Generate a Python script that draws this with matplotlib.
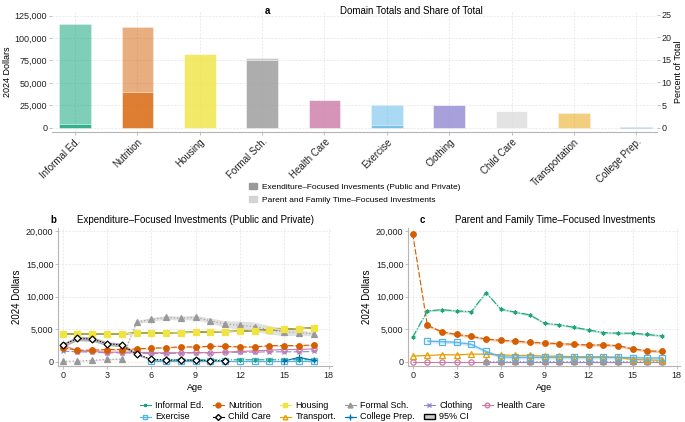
import numpy as np
import matplotlib
matplotlib.use("Agg")
import matplotlib.pyplot as plt
from matplotlib.lines import Line2D
from matplotlib.patches import Patch
from matplotlib.ticker import FuncFormatter

plt.rcParams['font.family'] = ['Liberation Sans', 'DejaVu Sans']

# ---- panel a data ----
domains = ["Informal Ed.", "Nutrition", "Housing", "Formal Sch.", "Health Care",
           "Exercise", "Clothing", "Child Care", "Transportation", "College Prep."]
exp_totals = [4000, 40000, 82500, 76000, 30500, 2500, 25000, 18500, 0, 1200]
time_totals = [112000, 72000, 0, 1500, 500, 22500, 0, 0, 16000, 0]
domain_colors = ["#009E73", "#D55E00", "#F0E442", "#999999", "#CC79A7",
                 "#56B4E9", "#9288D2", "#DCDCDC", "#E69F00", "#0072B2"]

ages = np.arange(18)
nan = np.nan

# ---- panel b: expenditure-focused, by age ----
b_informal = [nan]*6 + [330, 320, 320, 310, 320, 320, 330, 330, 330, 330, 330, 330]
b_nutrition = [2200, 1800, 1800, 1900, 1900, 2000, 2100, 2200, 2300, 2300, 2400, 2400,
               2300, 2300, 2500, 2500, 2500, 2600]
b_housing = [4250, 4300, 4300, 4300, 4300, 4400, 4400, 4450, 4500, 4550, 4600, 4650,
             4700, 4800, 4900, 5000, 5100, 5200]
b_formal = [100, 150, 250, 400, 450, 6100, 6500, 6800, 6700, 6800, 6300, 5800,
            5600, 5400, 4900, 4600, 4500, 4300]
b_formal_ci = [50, 50, 80, 100, 100, 250, 300, 300, 300, 350, 400, 500,
               650, 700, 650, 600, 400, 300]
b_clothing = [1650, 1550, 1500, 1400, 1400, 1350, 1300, 1300, 1350, 1400, 1400, 1450,
              1500, 1500, 1550, 1550, 1550, 1600]
b_health = [2600, 1700, 1600, 1500, 1500, 1500, 1400, 1400, 1400, 1450, 1400, 1500,
            1600, 1700, 1800, 1900, 1900, 2000]
b_exercise = [nan]*6 + [200, 200, 200, 200, 200, 200, 200, 200, 200, 200, 200, 200]
b_childcare = [2600, 3600, 3500, 2800, 2600, 1200, 400, 300, 300, 250, 200, 200] + [nan]*6
b_childcare_ci = [300, 350, 350, 300, 300, 200, 100, 80, 80, 80, 80, 80] + [nan]*6
b_college = [nan]*15 + [150, 700, 250]

# ---- panel c: parent and family time-focused, by age ----
c_informal = [3800, 7800, 8000, 7800, 7700, 10600, 8100, 7600, 7200, 5900, 5700, 5300,
              4900, 4500, 4400, 4400, 4200, 4000]
c_nutrition = [19600, 5600, 4600, 4200, 3900, 3500, 3300, 3200, 3000, 2900, 2800, 2700,
               2600, 2600, 2500, 2000, 1700, 1600]
c_exercise = [nan, 3200, 3100, 3000, 2700, 1600, 800, 700, 700, 700, 700, 700,
              700, 700, 700, 650, 600, 600]
c_transport = [900, 1000, 1100, 1100, 1200, 1200, 1100, 1000, 1000, 900, 900, 800,
               800, 800, 700, 400, 300, 250]
c_health = [50]*18
c_formal = [nan]*5 + [100]*13
c_clothing = [nan]*5 + [60]*13

fig = plt.figure(figsize=(6.85, 4.22), dpi=100)

grid_kw = dict(color="#e3e3e3", lw=0.5, ls=(0, (3, 2)))
spine_c = "#b5b5b5"
tick_fs = 6.5


def style(ax):
    for s in ["top", "right"]:
        ax.spines[s].set_visible(False)
    for s in ["left", "bottom"]:
        ax.spines[s].set_color(spine_c)
        ax.spines[s].set_linewidth(0.8)
    ax.tick_params(colors=spine_c, labelcolor="#222222", labelsize=tick_fs, length=2,
                   width=0.6, pad=1.5)
    ax.grid(True, **grid_kw)
    ax.set_axisbelow(True)


comma = FuncFormatter(lambda v, p: f"{int(v):,}")

# ---------------- panel a ----------------
axa = fig.add_axes([0.0759, 0.688, 0.883, 0.286])
style(axa)
axa.spines["left"].set_visible(False)
x = np.arange(len(domains))
for i in range(len(domains)):
    axa.bar(x[i], exp_totals[i], width=0.51, color=domain_colors[i], alpha=0.8,
            edgecolor="white", linewidth=0.4)
    axa.bar(x[i], time_totals[i], bottom=exp_totals[i], width=0.51,
            color=domain_colors[i], alpha=0.5, edgecolor="white", linewidth=0.4)
axa.set_xlim(-0.37, 9.33)
ylo, yhi = -4500, 130200
axa.set_ylim(ylo, yhi)
axa.set_yticks([0, 25000, 50000, 75000, 100000, 125000])
axa.yaxis.set_major_formatter(comma)
axa.set_xticks(x)
axa.set_xticklabels(domains, rotation=45, ha="right", rotation_mode="anchor", fontsize=7)
axa.set_ylabel("2024 Dollars", fontsize=6.5, labelpad=2)
total = sum(exp_totals) + sum(time_totals)
axr = axa.twinx()
axr.set_ylim(ylo / total * 100, yhi / total * 100)
axr.set_yticks([0, 5, 10, 15, 20, 25])
for s in ["top", "left", "bottom", "right"]:
    axr.spines[s].set_visible(False)
axr.tick_params(colors=spine_c, labelcolor="#222222", labelsize=tick_fs, length=2,
                width=0.6, pad=1.5)
axr.set_ylabel("Percent of Total", fontsize=6.5, labelpad=2)
fig.text(0.387, 0.975, "a", fontsize=7, fontweight="bold", ha="left", va="center")
fig.text(0.6, 0.975, "Domain Totals and Share of Total", fontsize=7, ha="center", va="center")
leg_a = [Patch(color="#999999", label="Exenditure\u2013Focused Invesments (Public and Private)"),
         Patch(color="#d4d4d4", label="Parent and Family Time\u2013Focused Investments")]
fig.legend(handles=leg_a, loc="upper left", bbox_to_anchor=(0.352, 0.585), frameon=False,
           fontsize=6, handlelength=1.0, handleheight=0.8, labelspacing=0.6, handletextpad=0.6)

# ---------------- line panels ----------------
series_style = {
    "Informal Ed.": dict(color="#1aa57a", marker=(6, 2, 0), ms=2.8, mfc="#1aa57a", ls="-."),
    "Nutrition": dict(color="#D55E00", marker="o", ms=4, mfc="#D55E00", ls=(0, (5, 2))),
    "Housing": dict(color="#F0E442", marker="s", ms=4, mfc="#F0E442", ls="-"),
    "Formal Sch.": dict(color="#999999", marker="^", ms=4, mfc="#999999", ls=(0, (1, 2))),
    "Clothing": dict(color="#9288D2", marker="x", ms=3, mfc="none", ls=(0, (6, 2))),
    "Health Care": dict(color="#CC79A7", marker="o", ms=3.8, mfc="none", ls="-"),
    "Exercise": dict(color="#56B4E9", marker="s", ms=3.8, mfc="none", ls="-"),
    "Child Care": dict(color="black", marker="D", ms=3.5, mfc="white", ls=(0, (1, 1.5))),
    "Transport.": dict(color="#E69F00", marker="^", ms=3.8, mfc="none", ls="-"),
    "College Prep.": dict(color="#0072B2", marker="+", ms=4.5, mfc="none", ls="-"),
}


def draw(ax, name, vals, ci=None, ci_color=None, lw=0.8):
    st = series_style[name]
    v = np.array(vals, dtype=float)
    if ci is not None:
        c = np.array(ci, dtype=float)
        ax.fill_between(ages, v - c, v + c, color=ci_color or st["color"], alpha=0.3,
                        lw=0, zorder=2)
    ax.plot(ages, v, color=st["color"], ls=st["ls"], lw=lw, marker=st["marker"],
            ms=st["ms"], mfc=st["mfc"], mec=st["color"], mew=0.9, zorder=3)


def setup_line(ax, title, letter, lx, tx):
    style(ax)
    ax.set_xlim(-0.3, 18.25)
    ax.set_ylim(-600, 20500)
    ax.set_xticks([0, 3, 6, 9, 12, 15, 18])
    ax.set_yticks([0, 5000, 10000, 15000, 20000])
    ax.yaxis.set_major_formatter(comma)
    ax.set_xlabel("Age", fontsize=6.5, labelpad=2)
    ax.set_ylabel("2024 Dollars", fontsize=7, labelpad=3)
    ax.text(lx, 1.055, letter, transform=ax.transAxes, fontsize=7, fontweight="bold",
            ha="left", va="center")
    ax.text(tx, 1.055, title, transform=ax.transAxes, fontsize=7, ha="center", va="center")


axb = fig.add_axes([0.085, 0.133, 0.40, 0.327])
setup_line(axb, "Expenditure\u2013Focused Investments (Public and Private)", "b", -0.03, 0.5)
draw(axb, "Formal Sch.", b_formal, b_formal_ci)
draw(axb, "Clothing", b_clothing)
draw(axb, "Health Care", b_health)
draw(axb, "Nutrition", b_nutrition, [100]*18)
axb.plot(ages, b_housing, color="black", lw=1.0, zorder=3)
draw(axb, "Housing", b_housing)
draw(axb, "Exercise", b_exercise)
draw(axb, "Informal Ed.", b_informal)
draw(axb, "College Prep.", b_college)
axb.fill_between(ages, np.array(b_childcare) - np.array(b_childcare_ci),
                 np.array(b_childcare) + np.array(b_childcare_ci),
                 color="#555555", alpha=0.45, lw=0, zorder=2)
draw(axb, "Child Care", b_childcare)

axc = fig.add_axes([0.596, 0.133, 0.397, 0.327])
setup_line(axc, "Parent and Family Time\u2013Focused Investments", "c", 0.04, 0.54)
draw(axc, "Health Care", c_health)
draw(axc, "Clothing", c_clothing)
draw(axc, "Formal Sch.", c_formal)
draw(axc, "Transport.", c_transport, [80]*18)
draw(axc, "Exercise", c_exercise, [250]*18)
draw(axc, "Nutrition", c_nutrition, [200]*18)
draw(axc, "Informal Ed.", c_informal, [150]*18)

# bottom legend, ordered column-wise so it reads row by row
order = ["Informal Ed.", "Exercise", "Nutrition", "Child Care", "Housing", "Transport.",
         "Formal Sch.", "College Prep.", "Clothing", "95% CI", "Health Care"]
handles = []
for name in order:
    if name == "95% CI":
        handles.append(Patch(facecolor="#cccccc", edgecolor="black", lw=1.0, label=name))
    else:
        st = series_style[name]
        handles.append(Line2D([], [], color=st["color"], ls="-", lw=0.8, marker=st["marker"],
                              ms=st["ms"] - 0.5, mfc=st["mfc"], mec=st["color"], label=name))
fig.legend(handles=handles, loc="lower center", bbox_to_anchor=(0.5, -0.018), ncol=6,
           frameon=False, fontsize=6.5, handlelength=1.2, handleheight=0.5,
           columnspacing=1.0, labelspacing=0.25, handletextpad=0.5)

fig.savefig("out.png", dpi=100)
